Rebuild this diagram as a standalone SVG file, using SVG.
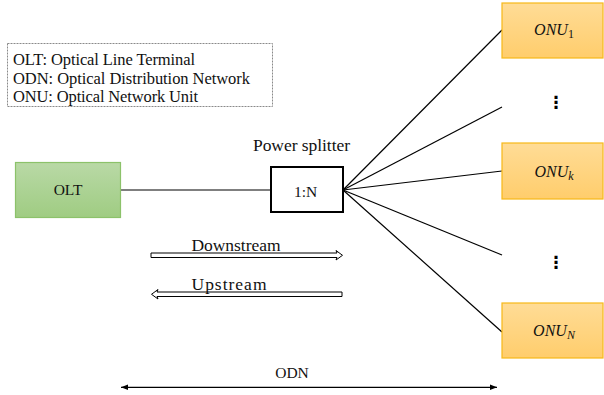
<svg xmlns="http://www.w3.org/2000/svg" width="604" height="395" viewBox="0 0 604 395">
  <style>
    .t { font-family: "Liberation Serif", "Times New Roman", serif; font-size: 16.5px; fill: #111; }
    .s { font-size: 15.5px; }
    .l { font-size: 17.5px; }
    .c { text-anchor: middle; }
    .onu { font-family: "Liberation Serif", "Times New Roman", serif; font-style: italic; font-size: 16px; fill: #111; text-anchor: middle; }
    .sub { font-size: 12px; }
    .wire { stroke: #000; stroke-width: 1.2; fill: none; }
    .hollow { fill: #fff; stroke: #000; stroke-width: 1; }
    .onubox { fill: url(#gOnu); stroke: #f7b818; stroke-width: 1.2; }
    .dots { font-family: "DejaVu Sans", sans-serif; font-size: 17px; font-weight: bold; fill: #000; text-anchor: middle; }
  </style>
  <defs>
    <linearGradient id="gOlt" x1="0" y1="0" x2="0" y2="1">
      <stop offset="0" stop-color="#b9d9a6"/>
      <stop offset="1" stop-color="#9fcc82"/>
    </linearGradient>
    <linearGradient id="gOnu" x1="0" y1="0" x2="0" y2="1">
      <stop offset="0" stop-color="#ffdc96"/>
      <stop offset="1" stop-color="#ffcd6c"/>
    </linearGradient>
    <marker id="head" viewBox="0 0 10 10" refX="10" refY="5" markerWidth="7" markerHeight="7" orient="auto-start-reverse" markerUnits="userSpaceOnUse">
      <path d="M0,1 L10,5 L0,9 Z" fill="#000"/>
    </marker>
  </defs>

  <!-- abbreviation legend -->
  <g id="legend">
    <rect x="7.5" y="43.5" width="265" height="63" fill="#fff" stroke="#8a8a8a" stroke-width="1" stroke-dasharray="2 1"/>
    <text class="t" x="13" y="65" textLength="182">OLT: Optical Line Terminal</text>
    <text class="t" x="13" y="83.5" textLength="237">ODN: Optical Distribution Network</text>
    <text class="t" x="13" y="101.5" textLength="185">ONU: Optical Network Unit</text>
  </g>

  <!-- connectors -->
  <g id="connectors">
    <line class="wire" x1="121" y1="190" x2="271" y2="190"/>
    <line class="wire" x1="343" y1="190" x2="502" y2="30"/>
    <line class="wire" x1="343" y1="190" x2="502" y2="107"/>
    <line class="wire" x1="343" y1="190" x2="502" y2="171"/>
    <line class="wire" x1="343" y1="190" x2="502" y2="255"/>
    <line class="wire" x1="343" y1="190" x2="502" y2="332"/>
    <!-- downstream / upstream hollow arrows -->
    <path class="hollow" d="M151,253 L337,253 L336,250.5 L342.5,255.3 L336,260 L337,257.5 L151,257.5 Z"/>
    <path class="hollow" d="M342,292 L157,292 L158,289.5 L151.5,294.3 L158,299 L157,296.5 L342,296.5 Z"/>
    <!-- ODN span -->
    <line x1="121" y1="387.3" x2="497" y2="387.3" stroke="#000" stroke-width="1.3" marker-start="url(#head)" marker-end="url(#head)"/>
  </g>

  <g id="olt">
    <rect x="15.5" y="162.5" width="105" height="55" fill="url(#gOlt)" stroke="#8cc26a" stroke-width="1.2"/>
    <text class="t s c" x="68" y="195">OLT</text>
  </g>

  <g id="splitter">
    <text class="t l c" x="301.5" y="151" textLength="97">Power splitter</text>
    <rect x="271" y="167" width="72" height="45" fill="#fff" stroke="#000" stroke-width="2"/>
    <text class="t s c" x="305.5" y="196.5">1:N</text>
  </g>

  <g id="onu1">
    <rect class="onubox" x="502" y="3" width="101" height="55"/>
    <text class="onu" x="554" y="35">ONU<tspan class="sub" font-style="normal" dy="3">1</tspan></text>
  </g>
  <g id="dots1"><text class="dots" x="556" y="108">⋮</text></g>

  <g id="onuk">
    <rect class="onubox" x="502" y="143" width="101" height="56"/>
    <text class="onu" x="554" y="176.5">ONU<tspan class="sub" dy="3">k</tspan></text>
  </g>
  <g id="dots2"><text class="dots" x="556" y="268">⋮</text></g>

  <g id="onun">
    <rect class="onubox" x="502" y="303" width="101" height="55"/>
    <text class="onu" x="554" y="336">ONU<tspan class="sub" dy="3">N</tspan></text>
  </g>

  <g id="labels">
    <text class="t l c" x="236" y="250.5" textLength="89">Downstream</text>
    <text class="t l c" x="229" y="290" textLength="75">Upstream</text>
    <text class="t s c" x="292" y="378.3">ODN</text>
  </g>
</svg>
